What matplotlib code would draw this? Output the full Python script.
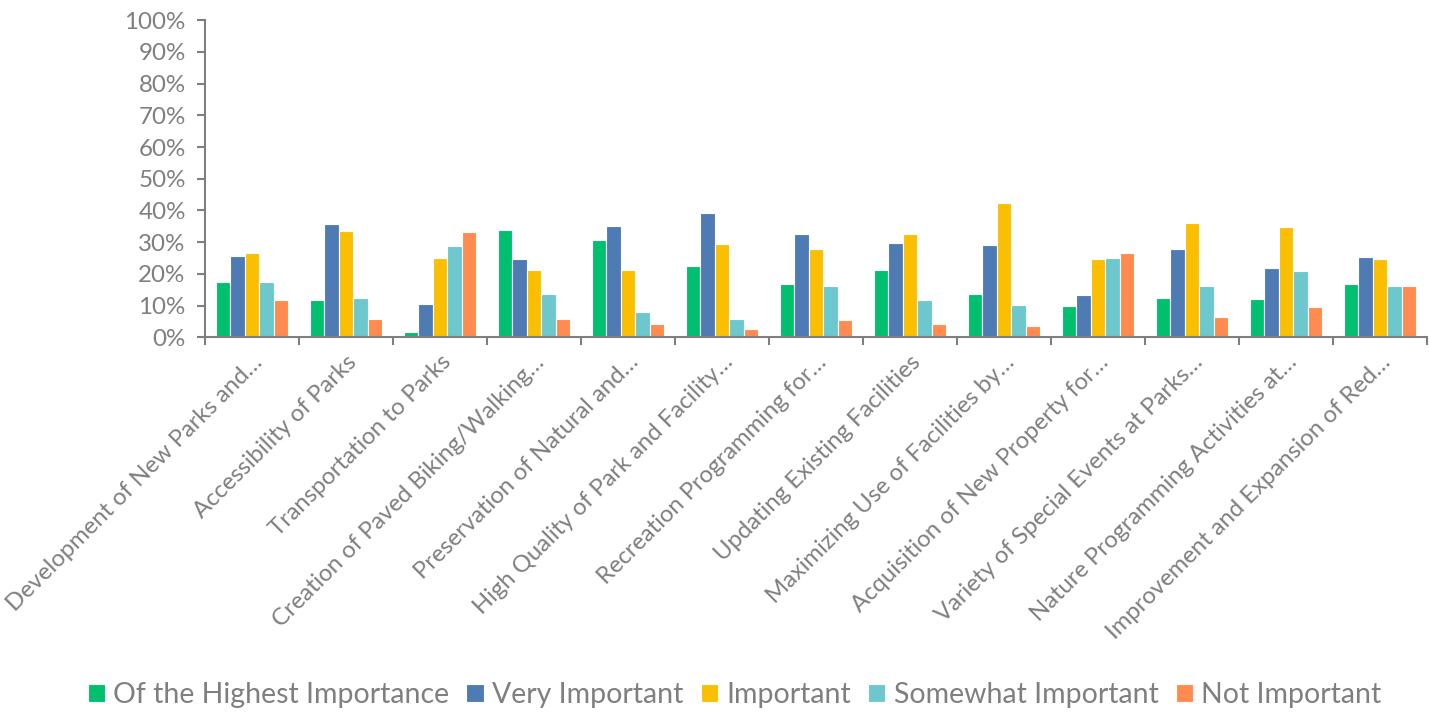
from matplotlib import pyplot as plt
from matplotlib.ticker import PercentFormatter
from matplotlib.transforms import ScaledTranslation
import numpy as np

# survey categories (labels truncated like in the original)
categories = [
    "Development of New Parks and…",
    "Accessibility of Parks",
    "Transportation to Parks",
    "Creation of Paved Biking/Walking…",
    "Preservation of Natural and…",
    "High Quality of Park and Facility…",
    "Recreation Programming for…",
    "Updating Existing Facilities",
    "Maximizing Use of Facilities by…",
    "Acquisition of New Property for…",
    "Variety of Special Events at Parks…",
    "Nature Programming Activities at…",
    "Improvement and Expansion of Red…",
]

highest = [17.6, 11.8, 1.7, 33.8, 30.8, 22.4, 17.0, 21.2, 13.7, 9.9, 12.4, 12.1, 16.8]
very = [25.6, 35.9, 10.6, 24.7, 35.1, 39.1, 32.5, 29.7, 29.1, 13.3, 27.8, 22.0, 25.5]
important = [26.7, 33.5, 24.9, 21.4, 21.2, 29.3, 28.0, 32.7, 42.5, 24.6, 36.2, 34.8, 24.6]
somewhat = [17.6, 12.4, 28.8, 13.8, 8.0, 5.7, 16.1, 11.7, 10.3, 25.0, 16.3, 21.0, 16.3]
not_important = [11.8, 5.7, 33.2, 5.7, 4.2, 2.8, 5.6, 4.1, 3.7, 26.6, 6.6, 9.7, 16.3]

series_names = ["Of the Highest Importance", "Very Important", "Important",
                "Somewhat Important", "Not Important"]
colors = ["#00BF6F", "#4F7BB4", "#F9BF00", "#6CC8CC", "#FF8B50"]

plt.rcParams['font.family'] = ['Lato', 'DejaVu Sans']
gray = "#7F7F7F"

fig = plt.figure(figsize=(14.29, 7.15), dpi=100)
ax = fig.add_axes([0.1435, 0.528, 0.855, 0.444])

x = np.arange(len(categories))
w = 0.154
all_series = [highest, very, important, somewhat, not_important]
for i, vals in enumerate(all_series):
    ax.bar(x + (i - 2) * w, vals, width=w, color=colors[i], edgecolor="white",
           linewidth=0.8, label=series_names[i])

ax.set_xlim(-0.5, len(categories) - 0.5)
ax.set_ylim(0, 100)
ax.set_yticks(np.arange(0, 101, 10))
ax.yaxis.set_major_formatter(PercentFormatter(decimals=0))

ax.set_xticks(x)
ax.set_xticklabels(categories, rotation=45, ha="right", rotation_mode="anchor")
# nudge the slanted labels a little to the right, like Excel does
shift = ScaledTranslation(0.18, -0.04, fig.dpi_scale_trans)
for lbl in ax.get_xticklabels():
    lbl.set_transform(lbl.get_transform() + shift)
ax.set_xticks(np.arange(-0.5, len(categories), 1), minor=True)
ax.tick_params(axis="x", which="major", length=0, pad=10, labelsize=17.2, labelcolor=gray)
ax.tick_params(axis="x", which="minor", length=6, width=1.5, color=gray, direction="out")
ax.tick_params(axis="y", length=6, width=1.5, color=gray, labelsize=17.4, labelcolor=gray, pad=8)

for s in ["top", "right"]:
    ax.spines[s].set_visible(False)
for s in ["left", "bottom"]:
    ax.spines[s].set_color(gray)
    ax.spines[s].set_linewidth(1.5)

fig.legend(loc="center", bbox_to_anchor=(0.514, 0.028), ncol=5, frameon=False,
           fontsize=20.5, labelcolor=gray, handlelength=0.6, handleheight=0.6,
           handletextpad=0.3, columnspacing=0.6)

fig.savefig("out.png", dpi=100)
